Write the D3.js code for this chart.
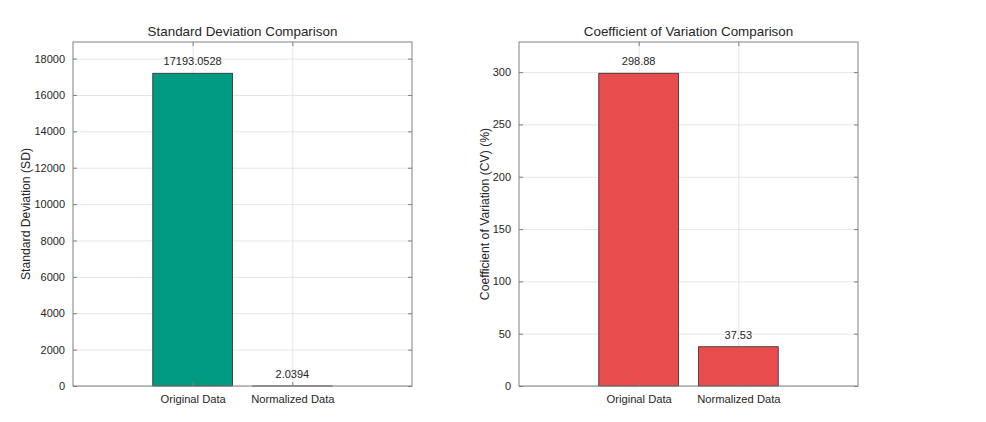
<!DOCTYPE html>
<html lang="en">
<head>
<meta charset="UTF-8">
<script src="https://d3js.org/d3.v7.min.js"></script>
<style>
  body { margin: 0; background: #fff; }
  text { font-family: "Liberation Sans", Arial, sans-serif; fill: #262626; }
  .grid line { stroke: #e6e6e6; }
  .grid .domain { stroke: none; }
</style>
</head>
<body>
<svg id="chart" width="986" height="422"></svg>
<script>
// data
const categories = ['Original Data', 'Normalized Data'];
const sdValues = [17193.0528, 2.0394];
const cvValues = [298.88, 37.53];
const sdLabels = ['17193.0528', '2.0394'];
const cvLabels = ['298.88', '37.53'];
const sdTicks = [0, 2000, 4000, 6000, 8000, 10000, 12000, 14000, 16000, 18000];
const cvTicks = [0, 50, 100, 150, 200, 250, 300];

const svg = d3.select('#chart');

function drawPanel(opts) {
    const left = opts.left, top = 42, w = 339, h = 344;
    const g = svg.append('g').attr('transform', `translate(${left},${top})`);

    // positions 1..n with 1.2 units of padding each side
    const x = d3.scaleLinear().domain([-0.2, 3.2]).range([0, w]);
    const y = d3.scaleLinear().domain([0, d3.max(opts.values) * 1.1]).range([h, 0]);
    const bw = x(0.8) - x(0);

    // gridlines
    g.append('g').attr('class', 'grid')
        .call(d3.axisLeft(y).tickValues(opts.ticks).tickSize(-w).tickFormat(''));
    g.append('g').attr('class', 'grid')
        .attr('transform', `translate(0,${h})`)
        .call(d3.axisBottom(x).tickValues([1, 2]).tickSize(h).tickFormat(''))
        .selectAll('line').attr('y2', -h);

    // bars
    g.selectAll('rect.bar')
        .data(opts.values)
        .enter().append('rect')
        .attr('class', 'bar')
        .attr('x', (d, i) => x(i + 1) - bw / 2)
        .attr('width', bw)
        .attr('y', d => y(d))
        .attr('height', d => h - y(d))
        .attr('fill', opts.color)
        .attr('stroke', '#2b2b2b')
        .attr('stroke-width', 0.8);

    // value labels
    g.selectAll('text.val')
        .data(opts.values)
        .enter().append('text')
        .attr('class', 'val')
        .attr('x', (d, i) => x(i + 1))
        .attr('y', d => y(d) - 8)
        .attr('text-anchor', 'middle')
        .style('font-size', '11px')
        .text((d, i) => opts.labels[i]);

    // axes box
    g.append('rect').attr('width', w).attr('height', h)
        .attr('fill', 'none').attr('stroke', '#808080').attr('stroke-width', 1);

    // y axis ticks (inward) + labels
    const yAxis = g.append('g')
        .call(d3.axisLeft(y).tickValues(opts.ticks).tickSize(-4).tickPadding(8)
            .tickFormat(d3.format('d')));
    yAxis.select('.domain').remove();
    yAxis.selectAll('line').attr('stroke', '#808080');
    yAxis.selectAll('text').style('font-size', '11px').attr('fill', '#262626');

    const yRight = g.append('g').attr('transform', `translate(${w},0)`)
        .call(d3.axisRight(y).tickValues(opts.ticks).tickSize(-4).tickFormat(''));
    yRight.select('.domain').remove();
    yRight.selectAll('line').attr('stroke', '#808080');

    // x axis ticks + category labels
    const xAxis = g.append('g').attr('transform', `translate(0,${h})`)
        .call(d3.axisBottom(x).tickValues([1, 2]).tickSize(-4).tickPadding(9)
            .tickFormat(d => categories[d - 1]));
    xAxis.select('.domain').remove();
    xAxis.selectAll('line').attr('stroke', '#808080');
    xAxis.selectAll('text').style('font-size', '11.2px').attr('fill', '#262626');

    const xTop = g.append('g')
        .call(d3.axisTop(x).tickValues([1, 2]).tickSize(-4).tickFormat(''));
    xTop.select('.domain').remove();
    xTop.selectAll('line').attr('stroke', '#808080');

    // title
    g.append('text')
        .attr('x', w / 2).attr('y', -6)
        .attr('text-anchor', 'middle')
        .style('font-size', '13.4px')
        .text(opts.title);

    // y label
    g.append('text')
        .attr('transform', `translate(${opts.ylabelX},${h / 2}) rotate(-90)`)
        .attr('text-anchor', 'middle')
        .style('font-size', '12.2px')
        .text(opts.ylabel);
}

drawPanel({
    left: 73, values: sdValues, labels: sdLabels, ticks: sdTicks,
    color: '#009a80', title: 'Standard Deviation Comparison',
    ylabel: 'Standard Deviation (SD)', ylabelX: -43
});

drawPanel({
    left: 519, values: cvValues, labels: cvLabels, ticks: cvTicks,
    color: '#e84c4c', title: 'Coefficient of Variation Comparison',
    ylabel: 'Coefficient of Variation (CV) (%)', ylabelX: -30
});
</script>
</body>
</html>
